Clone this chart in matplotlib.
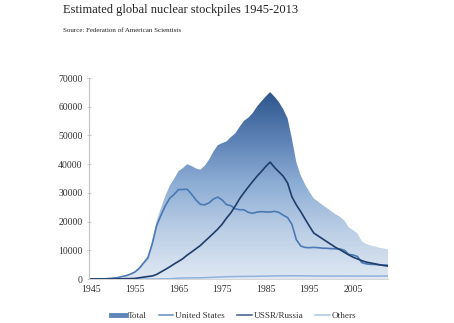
import numpy as np
import matplotlib
matplotlib.use("Agg")
import matplotlib.pyplot as plt
from matplotlib.colors import LinearSegmentedColormap
from matplotlib.lines import Line2D

plt.rcParams['font.family'] = ['Liberation Serif', 'DejaVu Serif']

years = list(range(1945, 2014))

united_states = [
    2, 9, 13, 50, 170, 299, 438, 841, 1169, 1703,
    2422, 3692, 5543, 7345, 12298, 18638, 22229, 25540, 28133, 29463,
    31139, 31175, 31255, 29561, 27552, 26008, 25830, 26516, 27835, 28537,
    27519, 25914, 25542, 24418, 24138, 24104, 23208, 22886, 23305, 23459,
    23368, 23317, 23575, 23205, 22217, 21392, 19008, 13708, 11511, 10979,
    10904, 11011, 10903, 10732, 10685, 10577, 10526, 10457, 10027, 8570,
    8360, 7853, 5709, 5273, 5113, 5066, 4897, 4881, 4804,
]

ussr_russia = [
    0, 0, 0, 0, 1, 5, 25, 50, 120, 150,
    200, 426, 660, 869, 1060, 1605, 2471, 3322, 4238, 5221,
    6129, 7089, 8339, 9399, 10538, 11643, 13092, 14478, 15915, 17385,
    19055, 21205, 23044, 25393, 27935, 30062, 32049, 33952, 35804, 37431,
    39197, 40723, 38859, 37333, 35805, 33417, 28595, 25800, 23500, 20900,
    18400, 16000, 15000, 14000, 13000, 12000, 11000, 10200, 9300, 8400,
    7600, 7000, 6400, 5900, 5600, 5300, 5000, 4700, 4500,
]

others = [
    0, 0, 0, 0, 0, 0, 0, 0, 1, 5,
    10, 15, 20, 22, 25, 30, 50, 80, 120, 200,
    300, 340, 380, 400, 410, 420, 480, 540, 600, 680,
    750, 800, 840, 870, 890, 900, 920, 930, 950, 980,
    1000, 1050, 1080, 1100, 1110, 1120, 1130, 1130, 1120, 1100,
    1080, 1060, 1050, 1040, 1030, 1020, 1020, 1030, 1040, 1045,
    1045, 1040, 1030, 1020, 1010, 1000, 1020, 1050, 1080,
]

total = [
    2, 9, 13, 50, 171, 304, 463, 891, 1290, 1858,
    2632, 4133, 6223, 8236, 13383, 20273, 24750, 28942, 32491, 34884,
    37568, 38604, 39974, 39360, 38500, 38071, 39402, 41534, 44350, 46602,
    47324, 47919, 49426, 50681, 52963, 55066, 56177, 57768, 60059, 61870,
    63565, 65090, 63514, 61638, 59132, 55929, 48733, 40638, 36131, 32979,
    30384, 28071, 26953, 25772, 24715, 23597, 22546, 21687, 20367, 18015,
    17005, 15893, 13139, 12193, 11723, 11366, 10917, 10631, 10384,
]

xtick_labels = [1945, 1955, 1965, 1975, 1985, 1995, 2005]
ytick_values = list(range(0, 70001, 10000))

fig = plt.figure(figsize=(4.54, 3.23), dpi=100)
fig.patch.set_facecolor('white')
ax = fig.add_axes([0.196, 0.1362, 0.6586, 0.6223])

x = np.array(years)
tot = np.array(total)

# Vertical gradient for the total stockpile area
ymax = 70000
grad_cmap = LinearSegmentedColormap.from_list(
    'stock', ['#dfe8f3', '#bccfe6', '#8eaed5', '#5a80b4', '#2c5488'])
poly = ax.fill_between(x, 0, tot, color='none', lw=0)
grad = np.linspace(0, 1, 256).reshape(-1, 1)
img = ax.imshow(grad, cmap=grad_cmap, aspect='auto', origin='lower',
                extent=[x[0], x[-1], 0, 65500], vmin=0, vmax=1, zorder=1)
path = poly.get_paths()[0]
img.set_clip_path(path, transform=ax.transData)

ax.plot(x, others, color='#8fb3dc', lw=1.1, zorder=3)
ax.plot(x, united_states, color='#4a79b3', lw=1.2, zorder=4)
ax.plot(x, ussr_russia, color='#1f3d6b', lw=1.2, zorder=5)

ax.set_xlim(1944.5, 2013)
ax.set_ylim(0, ymax)

ax.set_xticks(xtick_labels)
ax.set_xticklabels([str(v) for v in xtick_labels])
ax.set_yticks(ytick_values)
ax.set_yticklabels([str(v) for v in ytick_values])

for side in ['top', 'right']:
    ax.spines[side].set_visible(False)
ax.spines['left'].set_color('#bfbfbf')
ax.spines['left'].set_linewidth(0.8)
ax.spines['bottom'].set_color('#d0d0d0')
ax.spines['bottom'].set_linewidth(0.6)

ax.tick_params(axis='y', length=3, width=0.6, color='#bfbfbf',
               labelsize=7, labelcolor='#333333', pad=3, direction='inout')
ax.tick_params(axis='x', length=0, labelsize=7, labelcolor='#333333', pad=4)
ax.set_facecolor('white')

fig.text(0.139, 0.988, 'Estimated global nuclear stockpiles 1945-2013',
         fontsize=9.0, color='#222222', va='top', ha='left')
fig.text(0.139, 0.912, 'Source: Federation of American Scientists',
         fontsize=5.0, color='#222222', va='top', ha='left')

handles = [
    Line2D([], [], color='#5f86b8', lw=3.5),
    Line2D([], [], color='#5f8bc0', lw=1.1),
    Line2D([], [], color='#3a5a85', lw=1.1),
    Line2D([], [], color='#a9c5e6', lw=1.1),
]
labels = ['Total', 'United States', 'USSR/Russia', 'Others']
fig.legend(handles, labels, loc='center', bbox_to_anchor=(0.515, 0.022),
           ncol=4, frameon=False, fontsize=6.6, handlelength=1.6,
           handletextpad=0.2, columnspacing=1.3, labelcolor='#333333')

fig.savefig('out.png', dpi=100, facecolor='white')
